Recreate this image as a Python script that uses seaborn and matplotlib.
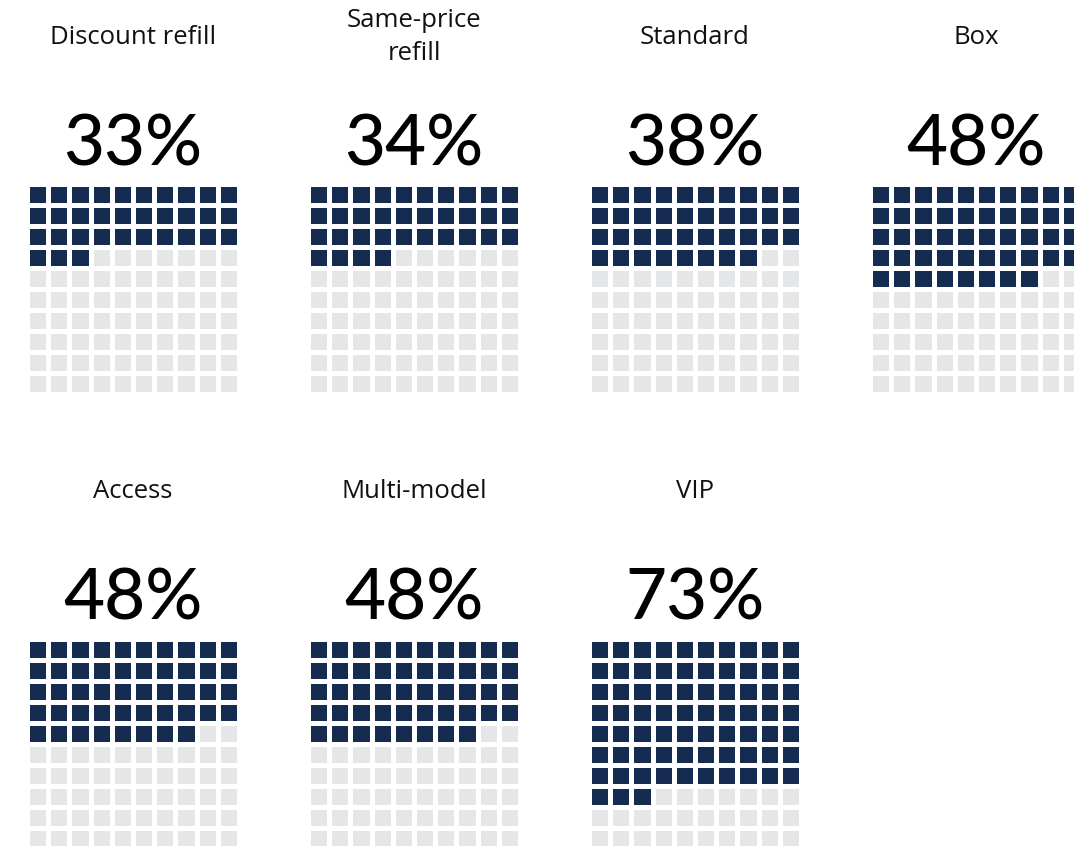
import numpy as np
import pandas as pd
import matplotlib
matplotlib.use("Agg")
import matplotlib.pyplot as plt
from matplotlib.colors import ListedColormap
import seaborn as sns

categories = ["Discount refill", "Same-price\nrefill", "Standard", "Box",
              "Access", "Multi-model", "VIP"]
percents = [33, 34, 38, 48, 48, 48, 73]

NAVY = "#152c50"
GREY = "#e5e6e8"

sns.set_theme(style="white")
plt.rcParams["font.family"] = ["Lato", "DejaVu Sans"]

W, H = 1074, 846
fig = plt.figure(figsize=(W / 100, H / 100), dpi=100)
fig.patch.set_facecolor("white")

cmap = ListedColormap([GREY, NAVY])
col_pitch, row_pitch = 281, 455
ax_w, ax_h = 212, 210

for i, (cat, pct) in enumerate(zip(categories, percents)):
    r, c = divmod(i, 4)
    left = 27 + col_pitch * c
    top = 184 + row_pitch * r
    ax = fig.add_axes([left / W, 1 - (top + ax_h) / H, ax_w / W, ax_h / H])
    cells = (np.arange(100) < pct).astype(int).reshape(10, 10)
    sns.heatmap(pd.DataFrame(cells), ax=ax, cmap=cmap, vmin=0, vmax=1,
                cbar=False, linewidths=2.5, linecolor="white",
                xticklabels=False, yticklabels=False)
    for s in ax.spines.values():
        s.set_visible(False)
    cx = left + ax_w / 2
    fig.text(cx / W, 1 - (37 + row_pitch * r) / H, cat, ha="center", va="center",
             fontsize=18.5, color="#111111", linespacing=1.38,
             family=["Open Sans", "DejaVu Sans"])
    fig.text(cx / W, 1 - (165 + row_pitch * r) / H, f"{pct}%", ha="center",
             va="baseline", fontsize=51, color="#000000", fontweight="medium")

fig.savefig("out.png", dpi=100, facecolor="white")
